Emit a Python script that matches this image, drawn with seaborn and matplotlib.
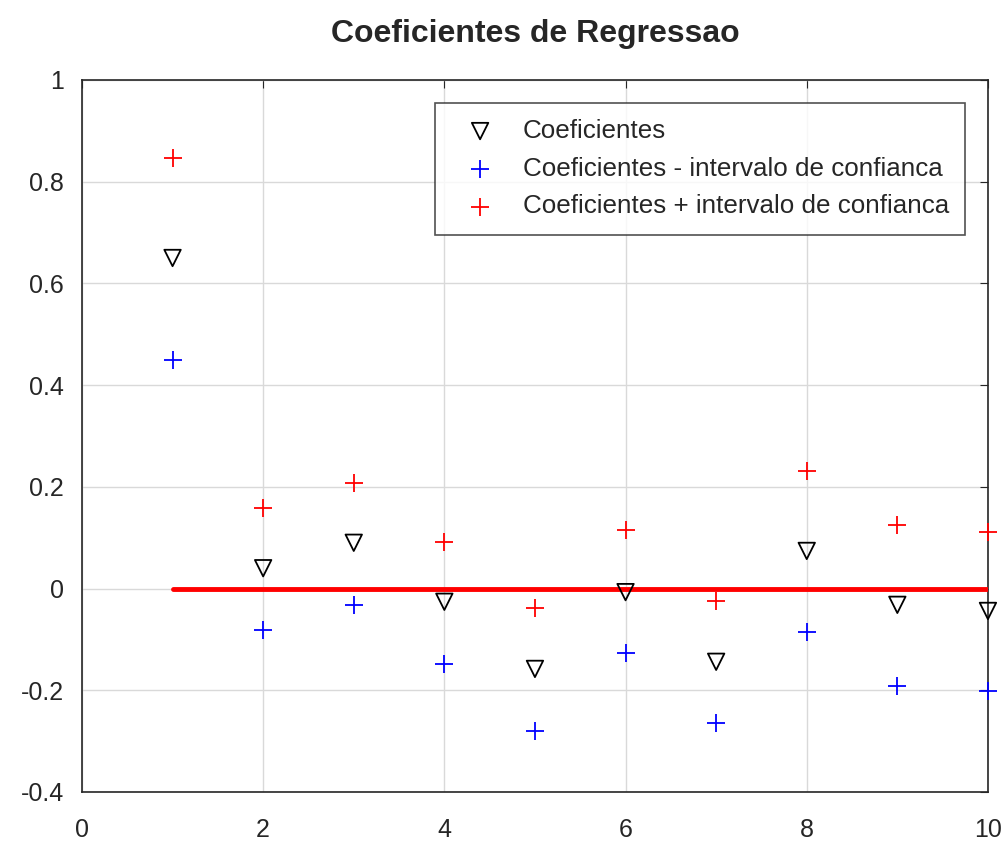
import numpy as np
import pandas as pd
import matplotlib
matplotlib.use("Agg")
import matplotlib.pyplot as plt
import seaborn as sns

# data
indices = [1, 2, 3, 4, 5, 6, 7, 8, 9, 10]
coef = [0.650, 0.040, 0.090, -0.026, -0.158, -0.007, -0.144, 0.074, -0.032, -0.044]
coef_low = [0.449, -0.081, -0.032, -0.148, -0.280, -0.127, -0.264, -0.085, -0.191, -0.201]
coef_high = [0.846, 0.158, 0.208, 0.092, -0.038, 0.115, -0.024, 0.231, 0.125, 0.111]
zero_line = [0.0] * len(indices)

sns.set_style("white")
plt.rcParams['font.family'] = ['Liberation Sans', 'DejaVu Sans']

fig = plt.figure(figsize=(10.08, 8.42), dpi=100)
ax = fig.add_axes([0.0813, 0.0594, 0.8988, 0.8456])

df_c = pd.DataFrame({"x": indices, "y": coef})
df_l = pd.DataFrame({"x": indices, "y": coef_low})
df_h = pd.DataFrame({"x": indices, "y": coef_high})

sns.lineplot(x=indices, y=zero_line, color="red", linewidth=3.5, ax=ax, zorder=3)
sns.scatterplot(data=df_c, x="x", y="y", marker="v", s=140, facecolor="none",
                edgecolor="black", linewidth=1.3, label="Coeficientes", ax=ax,
                zorder=4, clip_on=False)
sns.scatterplot(data=df_l, x="x", y="y", marker="+", s=180, color="blue",
                linewidth=1.3, label="Coeficientes - intervalo de confianca", ax=ax,
                zorder=4, clip_on=False)
sns.scatterplot(data=df_h, x="x", y="y", marker="+", s=180, color="red",
                linewidth=1.3, label="Coeficientes + intervalo de confianca", ax=ax,
                zorder=4, clip_on=False)

ax.set_xlim(0, 10)
ax.set_ylim(-0.4, 1)
ax.set_xticks([0, 2, 4, 6, 8, 10])
ax.set_yticks([-0.4, -0.2, 0, 0.2, 0.4, 0.6, 0.8, 1])
ax.set_yticklabels(["-0.4", "-0.2", "0", "0.2", "0.4", "0.6", "0.8", "1"])
ax.set_xlabel("")
ax.set_ylabel("")
ax.grid(True, color="#d9d9d9", linewidth=1)
ax.tick_params(direction="in", length=6, labelsize=18, colors="#262626",
               top=True, right=True)
ax.tick_params(axis="x", labeltop=False, pad=19)
ax.tick_params(axis="y", pad=13)
for sp in ax.spines.values():
    sp.set_color("#262626")
    sp.set_linewidth(1.2)
ax.set_title("Coeficientes de Regressao", fontsize=23, fontweight="bold", pad=27)

leg = ax.legend(loc="upper right", bbox_to_anchor=(0.975, 0.968), fontsize=18.7,
                frameon=True, fancybox=False, edgecolor="#262626",
                handlelength=2.2, handletextpad=0.55, borderpad=0.62,
                labelspacing=0.53, borderaxespad=0)
leg.get_frame().set_linewidth(1.2)

fig.savefig("out.png", dpi=100)
